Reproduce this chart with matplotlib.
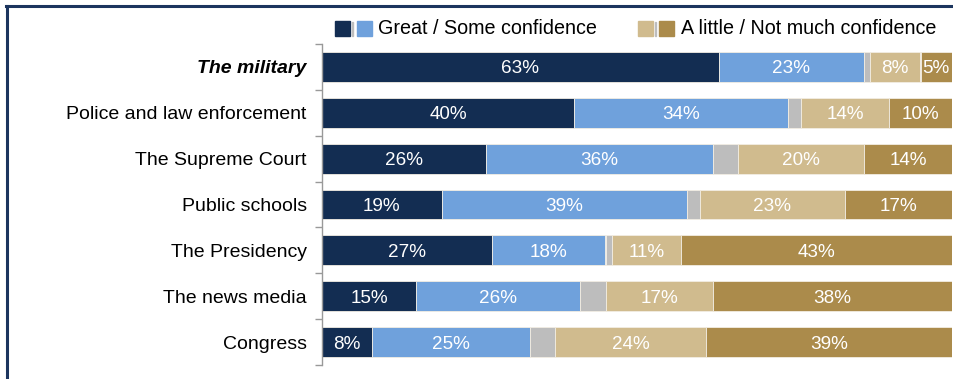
import matplotlib.pyplot as plt
from matplotlib.patches import Rectangle
from matplotlib.lines import Line2D
from matplotlib.transforms import ScaledTranslation
import numpy as np

plt.rcParams['font.family'] = ['Liberation Sans', 'DejaVu Sans']

institutions = ["The military", "Police and law enforcement", "The Supreme Court",
                "Public schools", "The Presidency", "The news media", "Congress"]
great = [63, 40, 26, 19, 27, 15, 8]
some = [23, 34, 36, 39, 18, 26, 25]
dont_know = [1, 2, 4, 2, 1, 4, 4]
a_little = [8, 14, 20, 23, 11, 17, 24]
not_much = [5, 10, 14, 17, 43, 38, 39]

series = [great, some, dont_know, a_little, not_much]
colors = ["#132d52", "#6fa1dc", "#bdbdbd", "#d0bb8e", "#ab8b4b"]
show_label = [True, True, False, True, True]

W, H = 954, 379
fig = plt.figure(figsize=(W / 100, H / 100), dpi=100)
ax = fig.add_axes([322 / W, (H - 365) / H, 630 / W, 321 / H])

# nudge text a couple of pixels below the bar centre
down2 = ax.transData + ScaledTranslation(0, -2 / 100, fig.dpi_scale_trans)

y = np.arange(len(institutions))
left = np.zeros(len(institutions))
for vals, col, lab in zip(series, colors, show_label):
    vals = np.array(vals)
    ax.barh(y, vals, left=left, height=0.65, color=col,
            edgecolor="#f2ede3", linewidth=0.6)
    if lab:
        for yi, l, v in zip(y, left, vals):
            ax.text(l + v / 2, yi, f"{v}%", ha="center", va="center",
                    color="white", fontsize=13.6, transform=down2)
    left += vals

ax.set_xlim(0, 100)
ax.set_ylim(len(institutions) - 0.5, -0.5)
ax.set_xticks([])
ax.set_yticks(y)
ax.set_yticklabels(institutions, fontsize=14)
ax.get_yticklabels()[0].set_fontweight("bold")
ax.get_yticklabels()[0].set_fontstyle("italic")
shift = ScaledTranslation(0, -3 / 100, fig.dpi_scale_trans)
for t in ax.get_yticklabels():
    t.set_transform(t.get_transform() + shift)
ax.set_yticks(np.arange(-0.5, len(institutions)), minor=True)
ax.tick_params(axis="y", which="major", length=0, pad=11)
ax.tick_params(axis="y", which="minor", length=5, color="#999999", width=1)
for s in ["top", "right", "bottom"]:
    ax.spines[s].set_visible(False)
ax.spines["left"].set_color("#999999")
ax.spines["left"].set_linewidth(1)

# legend row drawn in figure pixels
def px(x0, y0, w, h, col):
    fig.patches.append(Rectangle((x0 / W, 1 - (y0 + h) / H), w / W, h / H,
                                 transform=fig.transFigure, color=col))

px(335, 21, 15, 15, colors[0])
px(352.5, 22, 1, 14, colors[2])
px(357, 21, 15, 15, colors[1])
fig.text(378 / W, 1 - 29 / H, "Great / Some confidence", fontsize=14.2,
         va="center", ha="left")
px(638, 21, 15, 15, colors[3])
px(655.5, 22, 1, 14, colors[2])
px(659, 21, 15, 15, colors[4])
fig.text(681 / W, 1 - 29 / H, "A little / Not much confidence", fontsize=14.2,
         va="center", ha="left")

# frame along top and left edges
frame = "#1c355e"
fig.lines.append(Line2D([7 / W, 7 / W], [0, 1 - 6 / H], transform=fig.transFigure,
                        color=frame, linewidth=2.2))
fig.lines.append(Line2D([6 / W, 1], [1 - 6 / H, 1 - 6 / H], transform=fig.transFigure,
                        color=frame, linewidth=2.2))

fig.savefig("out.png", dpi=100)
